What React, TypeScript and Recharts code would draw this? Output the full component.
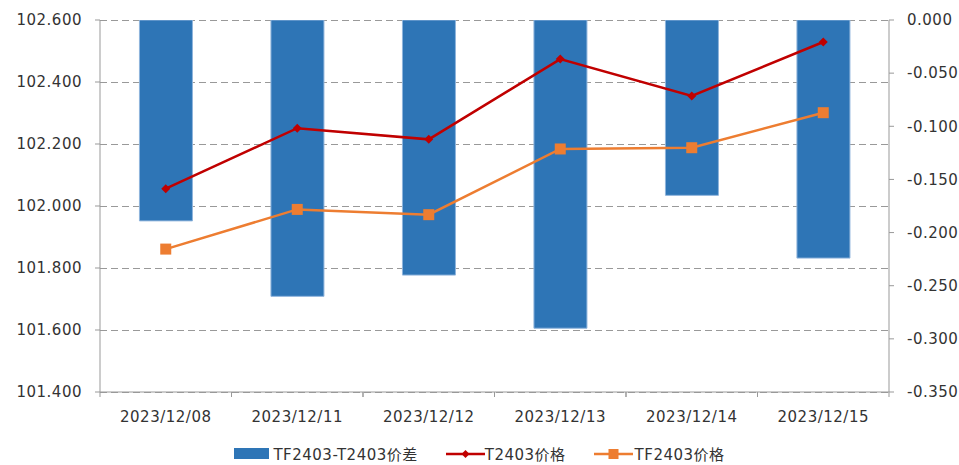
import React from "react"
import {
  ComposedChart,
  Bar,
  Line,
  XAxis,
  YAxis,
  CartesianGrid,
  Legend,
} from "recharts"

const dates = ["2023/12/08", "2023/12/11", "2023/12/12", "2023/12/13", "2023/12/14", "2023/12/15"]
const spread = [-0.189, -0.26, -0.24, -0.29, -0.165, -0.224]
const t2403 = [102.056, 102.251, 102.215, 102.474, 102.355, 102.529]
const tf2403 = [101.861, 101.989, 101.972, 102.184, 102.188, 102.301]

const leftTicks = [101.4, 101.6, 101.8, 102.0, 102.2, 102.4, 102.6]
const rightTicks = [-0.35, -0.3, -0.25, -0.2, -0.15, -0.1, -0.05, 0]

const BLUE = "#2E75B6"
const RED = "#C00000"
const ORANGE = "#ED7D31"
const FONT = "'DejaVu Sans', Verdana, 'Noto Sans CJK SC', sans-serif"

const data = dates.map((d, i) => ({
  date: d,
  spread: spread[i],
  t: t2403[i],
  tf: tf2403[i],
}))

const tickStyle = { fontSize: 15, fill: "#333", fontFamily: FONT, letterSpacing: 0.5 }

function DateTick(props: any) {
  const { x, y, payload } = props
  const half = payload && payload.offset ? payload.offset : 65.75
  return (
    <g>
      <line x1={x - half} y1={y} x2={x - half} y2={y + 5} stroke="#999" />
      <line x1={x + half} y1={y} x2={x + half} y2={y + 5} stroke="#999" />
      <text x={x} y={y + 30} textAnchor="middle" {...tickStyle}>
        {payload.value}
      </text>
    </g>
  )
}

function Diamond(props: any) {
  const { cx, cy } = props
  if (cx == null || cy == null) return null
  const r = 4.5
  return <path d={`M${cx},${cy - r}L${cx + r},${cy}L${cx},${cy + r}L${cx - r},${cy}Z`} fill={RED} />
}

function Square(props: any) {
  const { cx, cy } = props
  if (cx == null || cy == null) return null
  return <rect x={cx - 5.5} y={cy - 5.5} width={11} height={11} fill={ORANGE} />
}

function LegendBox() {
  const text = { fontSize: 15, color: "#333", fontFamily: FONT, letterSpacing: 0.5 }
  return (
    <div style={{ height: 33, display: "flex", justifyContent: "center", alignItems: "center", paddingTop: 10, boxSizing: "border-box", gap: 28 }}>
      <div style={{ display: "flex", alignItems: "center" }}>
        <span style={{ display: "inline-block", width: 35, height: 11, background: BLUE, marginRight: 4 }} />
        <span style={text}>TF2403-T2403价差</span>
      </div>
      <div style={{ display: "flex", alignItems: "center" }}>
        <svg width={39} height={12}>
          <line x1={0} y1={6} x2={39} y2={6} stroke={RED} strokeWidth={2.5} />
          <path d="M19.5,2L23.5,6L19.5,10L15.5,6Z" fill={RED} />
        </svg>
        <span style={text}>T2403价格</span>
      </div>
      <div style={{ display: "flex", alignItems: "center" }}>
        <svg width={39} height={12}>
          <line x1={0} y1={6} x2={39} y2={6} stroke={ORANGE} strokeWidth={2.5} />
          <rect x={14.5} y={1} width={10} height={10} fill={ORANGE} />
        </svg>
        <span style={{ ...text, marginLeft: 2 }}>TF2403价格</span>
      </div>
    </div>
  )
}

export default function App() {
  return (
    <div style={{ position: "absolute", left: 0, top: 0, background: "#fff" }}>
      <ComposedChart
        width={959}
        height={465}
        data={data}
        margin={{ top: 20, right: 0, left: 0, bottom: 0 }}
        barCategoryGap="30%"
      >
        <CartesianGrid
          yAxisId="left"
          vertical={false}
          stroke="#999"
          strokeDasharray="7 4"
          shapeRendering="crispEdges"
        />
        <XAxis
          dataKey="date"
          height={40}
          tickSize={0}
          tickMargin={0}
          tickLine={false}
          axisLine={{ stroke: "#999" }}
          tick={<DateTick />}
          interval={0}
        />
        <YAxis
          yAxisId="left"
          orientation="left"
          width={100}
          domain={[101.4, 102.6]}
          ticks={leftTicks}
          tickFormatter={(v: number) => v.toFixed(3)}
          tick={tickStyle}
          tickSize={5}
          tickMargin={13}
          tickLine={{ stroke: "#999" }}
          axisLine={{ stroke: "#999" }}
          allowDataOverflow
        />
        <YAxis
          yAxisId="right"
          orientation="right"
          width={70}
          domain={[-0.35, 0]}
          ticks={rightTicks}
          tickFormatter={(v: number) => v.toFixed(3)}
          tick={{ ...tickStyle, textAnchor: "start" }}
          tickSize={5}
          tickMargin={13}
          tickLine={{ stroke: "#999" }}
          axisLine={{ stroke: "#999" }}
          allowDataOverflow
        />
        <Legend verticalAlign="bottom" content={<LegendBox />} />
        <Bar
          yAxisId="right"
          dataKey="spread"
          name="TF2403-T2403价差"
          fill={BLUE}
          stroke="#8fb4dc"
          strokeWidth={1}
          isAnimationActive={false}
        />
        <Line
          yAxisId="left"
          dataKey="t"
          name="T2403价格"
          stroke={RED}
          strokeWidth={2.5}
          dot={<Diamond />}
          activeDot={false}
          isAnimationActive={false}
        />
        <Line
          yAxisId="left"
          dataKey="tf"
          name="TF2403价格"
          stroke={ORANGE}
          strokeWidth={2.5}
          dot={<Square />}
          activeDot={false}
          isAnimationActive={false}
        />
      </ComposedChart>
    </div>
  )
}
